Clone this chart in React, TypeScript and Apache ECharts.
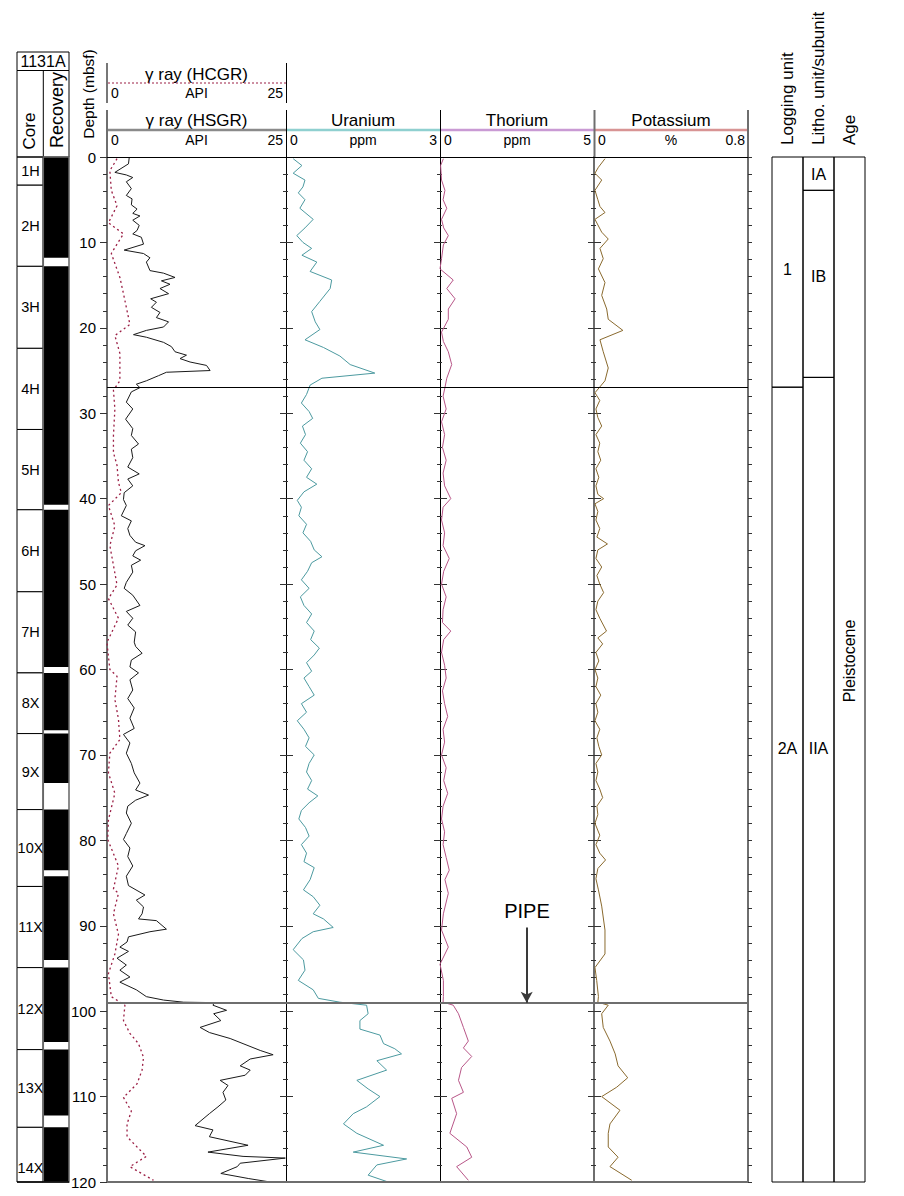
import React, { useEffect, useRef } from 'react';
import * as echarts from 'echarts';

// ---------------- DATA ----------------
// [depth (mbsf), value]
const hsgr: number[][] = [
  [0.1, 3.1], [0.8, 3.0], [1.8, 1.1], [2.1, 2.7], [2.4, 3.6], [2.9, 2.7], [3.7, 3.4], [4.5, 2.7], [4.9, 3.5], [5.6, 3.4],
  [6.1, 4.2], [6.6, 3.6], [6.9, 4.6], [7.4, 3.6], [8.0, 4.5], [8.6, 4.2], [9.0, 3.6], [9.4, 4.8], [10.2, 5.1], [10.9, 2.4],
  [11.3, 5.1], [11.8, 6.0], [12.3, 5.5], [13.3, 6.0], [13.6, 7.9], [14.1, 9.5], [14.5, 7.6], [14.9, 8.8], [15.4, 7.4], [16.0, 8.6],
  [16.6, 6.1], [17.0, 6.9], [17.6, 6.2], [18.2, 7.4], [18.8, 6.9], [19.3, 8.6], [19.9, 7.9], [20.3, 5.5], [20.8, 3.7], [21.1, 5.5],
  [21.7, 7.9], [22.2, 9.0], [22.8, 9.5], [23.2, 11.1], [23.6, 10.2], [24.0, 11.6], [24.4, 13.9], [25.0, 14.4], [25.2, 8.3], [25.6, 7.2],
  [26.2, 5.5], [26.6, 4.1], [27.0, 4.6], [27.5, 3.4], [28.7, 2.7], [29.5, 3.6], [30.7, 2.6], [31.8, 3.6], [32.6, 3.4], [33.6, 4.4],
  [34.2, 3.4], [35.2, 3.6], [36.3, 2.9], [37.1, 4.5], [37.7, 2.9], [38.5, 3.6], [39.3, 2.4], [40.1, 2.3], [40.8, 2.7], [42.0, 2.0],
  [42.6, 3.4], [43.5, 2.9], [44.3, 3.2], [45.1, 4.0], [45.5, 5.3], [46.1, 4.0], [46.7, 3.6], [47.2, 4.7], [47.8, 3.4], [48.6, 3.6],
  [49.8, 2.7], [50.5, 2.4], [51.3, 3.6], [52.5, 4.6], [53.2, 2.7], [54.0, 3.6], [54.8, 2.9], [55.6, 4.0], [56.8, 3.8], [57.3, 4.0],
  [58.1, 4.9], [58.9, 3.4], [59.7, 3.2], [60.4, 4.4], [61.2, 3.2], [62.4, 3.6], [63.4, 2.9], [64.5, 3.8], [65.7, 3.2], [66.9, 3.8],
  [67.6, 2.3], [68.6, 3.2], [69.8, 2.7], [71.0, 3.4], [72.1, 3.8], [73.3, 4.6], [74.1, 4.0], [74.7, 5.8], [75.3, 4.0], [76.0, 2.9],
  [76.8, 2.7], [78.0, 3.4], [79.2, 2.7], [79.9, 2.3], [80.9, 3.2], [81.9, 2.9], [83.0, 3.6], [84.2, 2.7], [85.3, 3.0], [86.4, 5.3],
  [87.0, 4.1], [87.8, 5.1], [88.6, 4.9], [89.2, 4.4], [89.4, 6.9], [90.4, 8.3], [90.7, 6.0], [91.3, 3.0], [91.9, 2.8], [92.5, 1.8],
  [93.0, 3.0], [93.8, 1.4], [94.6, 2.7], [95.2, 1.8], [96.0, 3.2], [96.6, 1.8], [97.5, 4.1], [98.3, 5.5], [98.7, 7.9], [98.95, 10.7],
  [99.0, 15.0], [99.3, 14.8], [99.9, 16.7], [100.3, 14.9], [101.1, 15.9], [101.9, 13.0], [102.5, 14.3], [103.2, 17.2], [103.8, 19.0], [104.6, 21.4],
  [105.1, 23.2], [105.6, 20.0], [106.4, 18.6], [106.9, 20.0], [107.5, 19.3], [108.1, 15.8], [108.7, 16.9], [109.5, 16.2], [110.4, 16.6], [111.2, 15.5],
  [112.0, 14.3], [113.4, 12.3], [113.9, 14.8], [114.7, 14.3], [115.7, 19.7], [116.5, 14.1], [117.0, 19.0], [117.2, 24.9], [117.8, 18.6], [118.2, 18.2],
  [119.0, 15.9], [119.6, 19.8], [120.0, 22.8],
];

const hcgr: number[][] = [
  [0.2, 1.4], [1.6, 0.4], [3.9, 0.6], [5.7, 1.4], [7.7, 0.2], [9.0, 2.3], [10.2, 1.4], [11.3, 0.6], [14.1, 1.8], [16.0, 2.3],
  [19.6, 3.2], [20.9, 1.1], [23.0, 1.8], [25.0, 1.8], [26.2, 1.8], [27.3, 0.9], [29.5, 1.1], [32.6, 0.9], [34.6, 0.9], [36.1, 1.4],
  [38.1, 1.6], [39.3, 2.0], [40.8, 0.2], [43.2, 1.1], [45.5, 0.4], [47.8, 0.9], [50.1, 1.4], [51.7, 0.2], [54.0, 1.6], [56.8, 0.0],
  [57.7, 0.1], [60.0, 0.4], [60.8, 1.4], [63.5, 1.1], [65.8, 1.6], [68.2, 1.8], [69.8, 0.4], [72.1, 0.2], [74.5, 1.1], [77.6, 0.2],
  [79.9, 0.1], [83.0, 1.6], [85.7, 0.9], [86.2, 1.6], [88.6, 0.9], [91.0, 1.6], [93.3, 1.1], [95.6, 0.2], [98.3, 0.6], [99.3, 2.5],
  [101.1, 2.3], [102.6, 3.2], [103.8, 4.4], [105.4, 5.1], [106.9, 4.9], [108.5, 4.2], [110.1, 2.3], [111.7, 3.4], [113.2, 2.8], [114.7, 2.8],
  [115.9, 4.2], [117.0, 5.5], [118.2, 3.2], [119.8, 6.5],
];

const uranium: number[][] = [
  [0.2, 0.14], [1.0, 0.31], [1.9, 0.14], [2.7, 0.37], [3.5, 0.33], [4.2, 0.24], [5.0, 0.37], [6.0, 0.27], [6.5, 0.37], [7.3, 0.53],
  [8.3, 0.37], [9.2, 0.21], [10.0, 0.33], [10.7, 0.50], [11.5, 0.31], [12.3, 0.60], [13.4, 0.47], [14.4, 0.89], [15.4, 0.86], [16.9, 0.66],
  [18.1, 0.50], [19.3, 0.57], [20.2, 0.66], [21.4, 0.37], [22.3, 0.73], [23.3, 1.05], [24.3, 1.25], [25.3, 1.73], [25.9, 0.70], [26.7, 0.47],
  [27.8, 0.40], [28.8, 0.30], [29.8, 0.45], [30.6, 0.52], [31.5, 0.32], [32.5, 0.38], [33.5, 0.28], [34.5, 0.42], [35.5, 0.35], [36.5, 0.50],
  [37.5, 0.40], [38.3, 0.60], [39.2, 0.35], [40.2, 0.22], [41.0, 0.30], [42.0, 0.25], [43.0, 0.40], [44.0, 0.33], [45.0, 0.48], [46.0, 0.55],
  [46.8, 0.70], [47.5, 0.50], [48.5, 0.42], [49.5, 0.30], [50.5, 0.45], [51.5, 0.28], [52.5, 0.35], [53.5, 0.50], [54.5, 0.40], [55.5, 0.55],
  [56.5, 0.48], [57.5, 0.65], [58.3, 0.55], [59.2, 0.40], [60.2, 0.50], [61.0, 0.35], [62.0, 0.45], [63.0, 0.55], [64.0, 0.30], [65.0, 0.40],
  [66.0, 0.22], [67.0, 0.35], [68.0, 0.45], [69.0, 0.38], [70.0, 0.55], [71.0, 0.45], [72.0, 0.40], [73.0, 0.50], [74.0, 0.42], [74.8, 0.62],
  [75.6, 0.45], [76.5, 0.30], [77.5, 0.25], [78.5, 0.38], [79.5, 0.45], [80.5, 0.30], [81.5, 0.40], [82.5, 0.35], [83.2, 0.55], [84.6, 0.47],
  [85.8, 0.34], [86.6, 0.53], [87.6, 0.66], [88.6, 0.53], [89.2, 0.73], [90.2, 0.92], [90.7, 0.53], [91.5, 0.31], [92.8, 0.14], [94.0, 0.34],
  [95.2, 0.37], [96.4, 0.24], [97.5, 0.53], [98.5, 0.63], [98.95, 1.05], [99.3, 1.57], [100.3, 1.60], [101.1, 1.44], [102.1, 1.44], [102.8, 1.83],
  [103.8, 1.90], [104.4, 2.12], [105.0, 2.25], [105.8, 1.77], [106.9, 1.96], [108.1, 1.38], [109.1, 1.60], [110.0, 1.83], [111.2, 1.57], [112.0, 1.31],
  [113.2, 1.12], [114.3, 1.38], [115.7, 1.90], [116.5, 1.31], [117.3, 2.35], [118.0, 1.77], [119.2, 1.60], [120.0, 1.99],
];

const thorium: number[][] = [
  [0.2, 0.11], [1.0, 0.02], [2.7, 0.05], [3.9, 0.16], [5.0, 0.10], [6.0, 0.22], [7.3, 0.05], [8.3, 0.12], [9.2, 0.27], [10.3, 0.11],
  [11.9, 0.05], [13.1, 0.0], [14.4, 0.43], [15.4, 0.22], [16.6, 0.49], [17.8, 0.27], [19.0, 0.27], [20.5, 0.05], [21.6, 0.11], [22.8, 0.27],
  [24.3, 0.38], [25.9, 0.22], [27.0, 0.16], [28.0, 0.10], [29.5, 0.20], [31.0, 0.05], [32.5, 0.15], [34.0, 0.08], [35.5, 0.20], [37.0, 0.10],
  [38.5, 0.15], [40.0, 0.35], [41.0, 0.10], [42.5, 0.05], [44.0, 0.15], [45.5, 0.10], [47.0, 0.30], [48.5, 0.12], [50.0, 0.05], [51.5, 0.20],
  [53.0, 0.10], [54.5, 0.08], [55.5, 0.35], [56.5, 0.12], [58.0, 0.05], [59.5, 0.15], [61.0, 0.20], [62.5, 0.08], [64.0, 0.15], [65.5, 0.25],
  [67.0, 0.10], [68.5, 0.15], [70.0, 0.05], [71.5, 0.20], [73.0, 0.12], [74.5, 0.25], [76.0, 0.10], [77.5, 0.05], [79.0, 0.15], [80.5, 0.10],
  [82.0, 0.20], [83.5, 0.30], [84.6, 0.16], [86.2, 0.27], [88.6, 0.11], [90.5, 0.05], [92.5, 0.27], [94.5, 0.0], [96.4, 0.11], [98.3, 0.11],
  [98.95, 0.10], [99.3, 0.43], [100.3, 0.60], [101.9, 0.76], [103.5, 0.92], [104.3, 0.76], [105.3, 1.03], [106.6, 0.70], [108.1, 0.60], [109.5, 0.76],
  [110.2, 0.38], [112.0, 0.54], [114.3, 0.32], [115.9, 0.87], [117.1, 1.03], [118.2, 0.54], [119.8, 0.92],
];

const potassium: number[][] = [
  [0.2, 0.057], [1.2, 0.023], [1.9, 0.005], [2.7, 0.04], [3.9, 0.005], [5.0, 0.02], [5.8, 0.031], [6.5, 0.057], [7.3, 0.005], [8.8, 0.04],
  [9.6, 0.074], [10.7, 0.031], [11.9, 0.048], [13.1, 0.023], [14.7, 0.057], [16.2, 0.04], [17.8, 0.066], [19.0, 0.074], [20.3, 0.15], [21.4, 0.031],
  [22.8, 0.048], [24.7, 0.074], [26.2, 0.057], [27.6, 0.005], [28.5, 0.03], [29.5, 0.01], [30.5, 0.02], [31.5, 0.04], [32.5, 0.01], [33.5, 0.03],
  [34.5, 0.02], [35.5, 0.035], [36.5, 0.01], [37.5, 0.025], [38.5, 0.01], [39.5, 0.02], [40.0, 0.05], [40.6, 0.005], [41.5, 0.02], [42.5, 0.01],
  [43.5, 0.03], [44.5, 0.015], [45.3, 0.07], [46.0, 0.02], [47.0, 0.01], [48.0, 0.04], [49.0, 0.015], [50.0, 0.03], [51.0, 0.05], [52.0, 0.02],
  [53.0, 0.01], [54.0, 0.03], [55.5, 0.065], [56.3, 0.02], [57.0, 0.045], [58.0, 0.01], [59.0, 0.025], [60.0, 0.005], [61.0, 0.02], [62.0, 0.01],
  [63.0, 0.035], [64.0, 0.01], [65.0, 0.02], [66.0, 0.005], [67.0, 0.03], [68.0, 0.015], [69.0, 0.025], [70.0, 0.04], [71.0, 0.01], [72.0, 0.02],
  [73.0, 0.01], [74.0, 0.03], [75.0, 0.045], [76.0, 0.015], [77.0, 0.02], [78.0, 0.005], [79.4, 0.03], [80.5, 0.01], [81.5, 0.03], [82.3, 0.06],
  [83.3, 0.02], [84.5, 0.01], [85.8, 0.023], [87.7, 0.04], [90.5, 0.057], [93.3, 0.057], [94.9, 0.005], [96.4, 0.014], [98.3, 0.023], [98.95, 0.02],
  [99.3, 0.074], [100.3, 0.04], [101.9, 0.048], [103.5, 0.083], [105.0, 0.11], [106.4, 0.125], [107.8, 0.175], [108.9, 0.118], [110.0, 0.04], [111.6, 0.135],
  [113.2, 0.083], [114.3, 0.074], [115.9, 0.074], [117.1, 0.125], [118.2, 0.083], [119.8, 0.196],
];

// Cores
const coreNames = ['1H', '2H', '3H', '4H', '5H', '6H', '7H', '8X', '9X', '10X', '11X', '12X', '13X', '14X'];
const coreTops = [0, 3.3, 12.8, 22.4, 31.9, 41.3, 50.9, 60.4, 67.5, 76.4, 85.4, 94.9, 104.5, 113.6];
const coreBottoms = [3.3, 12.8, 22.4, 31.9, 41.3, 50.9, 60.4, 67.5, 76.4, 85.4, 94.9, 104.5, 113.6, 123.1];
const recoveryTops = [0, 12.8, 41.3, 60.4, 67.5, 76.4, 84.2, 94.9, 104.5, 113.6];
const recoveryBottoms = [11.8, 40.7, 59.7, 67.1, 73.3, 83.5, 94.0, 103.6, 112.2, 120];

// Units
const logUnits = ['1', '2A'];
const logTops = [0, 26.95];
const logBottoms = [26.95, 120];
const logLabelDepths = [13.2, 69.2];
const lithoUnits = ['IA', 'IB', 'IIA'];
const lithoTops = [0, 3.9, 25.8];
const lithoBottoms = [3.9, 25.8, 120];
const lithoLabelDepths = [2.0, 14.0, 69.2];
const ages = ['Pleistocene'];
const ageTops = [0];
const ageBottoms = [120];
const ageLabelDepths = [59];

const depthTicks = [0, 120, 10];
const trackNames = ['γ ray (HSGR)', 'Uranium', 'Thorium', 'Potassium'];
const trackUnits = ['API', 'ppm', 'ppm', '%'];
const trackMin = [0, 0, 0, 0];
const trackMax = [25, 3, 5, 0.8];
const trackMaxLabels = ['25', '3', '5', '0.8'];
const hcgrName = 'γ ray (HCGR)';
const unitBoundaryDepth = 26.95;
const pipeDepth = 99.0;
const pipeArrowTh = 2.815;
const pipeArrowTop = 90.2;

// ---------------- LAYOUT ----------------
const FONT = '"Liberation Sans", Arial, Helvetica, sans-serif';
const TOP = 157;
const H = 1025;
const trackLeft = [107, 286, 440, 594];
const trackWidth = [179, 154, 154, 154];
const trackHeaderColor = ['#8a8a8a', '#8fd0d0', '#c99ad4', '#d89494'];
const axisColor = ['#6e6e6e', '#000', '#000', '#6e6e6e'];
const axisWidth = [2, 1, 1, 2];

const toXY = (arr: number[][]) => arr.map(([d, v]) => [v, d]);

function txt(x: number, y: number, text: string, size: number, align = 'center', rotation = 0, extra: any = {}) {
  return {
    type: 'text', x, y, rotation, z: 20,
    style: {
      text, fill: '#000', fontSize: size, fontFamily: FONT,
      textAlign: align, align, textVerticalAlign: 'middle', verticalAlign: 'middle', ...extra,
    },
  };
}
function ln(x1: number, y1: number, x2: number, y2: number, color: string, width: number, dash?: number[]) {
  return {
    type: 'line', z: 20,
    shape: { x1, y1, x2, y2 },
    style: { stroke: color, lineWidth: width, lineDash: dash || null },
  };
}

export default function App() {
  const ref = useRef<HTMLDivElement>(null);
  useEffect(() => {
    document.body.style.margin = '0';
    const chart = echarts.init(ref.current!, null, { renderer: 'svg' });

    const grids: any[] = trackLeft.map((l, i) => ({ left: l, top: TOP, width: trackWidth[i], height: H, outerBoundsMode: 'none' }));
    grids.push({ left: 17, top: TOP, width: 52, height: H, outerBoundsMode: 'none' });
    grids.push({ left: 772, top: TOP, width: 93, height: H, outerBoundsMode: 'none' });

    const xAxes: any[] = trackLeft.map((_, i) => ({ type: 'value', gridIndex: i, min: trackMin[i], max: trackMax[i], show: false }));
    xAxes.push({ type: 'value', gridIndex: 4, min: 0, max: 2, show: false });
    xAxes.push({ type: 'value', gridIndex: 5, min: 0, max: 3, show: false });

    const yBase = { type: 'value', min: depthTicks[0], max: depthTicks[1], interval: depthTicks[2], inverse: true, splitLine: { show: false } };
    const tickStyle = { color: '#333', width: 1 };
    const yAxes: any[] = [];
    const mainY: number[] = [];
    mainY.push(yAxes.length);
    yAxes.push({
      ...yBase, gridIndex: 0, position: 'left',
      axisLine: { show: true, lineStyle: { color: axisColor[0], width: axisWidth[0] } },
      axisTick: { show: true, length: 7, lineStyle: tickStyle },
      minorTick: { show: true, splitNumber: 5, length: 4, lineStyle: tickStyle },
      axisLabel: { show: true, margin: 11, fontSize: 15, color: '#000', fontFamily: FONT },
    });
    for (let i = 1; i < 4; i++) {
      mainY.push(yAxes.length);
      yAxes.push({
        ...yBase, gridIndex: i, position: 'left',
        axisLine: { show: true, lineStyle: { color: axisColor[i], width: axisWidth[i] } },
        axisTick: { show: true, length: 6, lineStyle: tickStyle },
        minorTick: { show: true, splitNumber: 5, length: 3, lineStyle: tickStyle },
        axisLabel: { show: false },
      });
      yAxes.push({
        ...yBase, gridIndex: i, position: 'left',
        axisLine: { show: false },
        axisTick: { show: true, inside: true, length: 7, lineStyle: tickStyle },
        minorTick: { show: true, splitNumber: 5, length: 2, lineStyle: tickStyle },
        axisLabel: { show: false },
      });
    }
    yAxes.push({
      ...yBase, gridIndex: 3, position: 'right',
      axisLine: { show: true, lineStyle: { color: axisColor[3], width: 2 } },
      axisTick: { show: true, length: 4, lineStyle: tickStyle },
      minorTick: { show: true, splitNumber: 5, length: 4, lineStyle: tickStyle },
      axisLabel: { show: false },
    });
    const coreY = yAxes.length;
    yAxes.push({ ...yBase, gridIndex: 4, show: false });
    const unitY = yAxes.length;
    yAxes.push({ ...yBase, gridIndex: 5, show: false });

    const boundaryMarks = (extra: any[] = []) => ({
      silent: true, symbol: 'none', animation: false, label: { show: false },
      data: [
        { yAxis: 0, lineStyle: { color: '#000', width: 1, type: 'solid' } },
        { yAxis: unitBoundaryDepth, lineStyle: { color: '#000', width: 1, type: 'solid' } },
        { yAxis: pipeDepth, lineStyle: { color: '#6e6e6e', width: 2, type: 'solid' } },
        { yAxis: 120, lineStyle: { color: '#6e6e6e', width: 2, type: 'solid' } },
        ...extra,
      ],
    });

    const lineSeries = (name: string, data: number[][], i: number, color: string, width: number, dash: any, marks: boolean, extra: any[] = []) => ({
      name, type: 'line', xAxisIndex: i, yAxisIndex: mainY[i], data: toXY(data),
      symbol: 'none', showSymbol: false, clip: true, z: 3,
      lineStyle: { color, width, type: dash },
      markLine: marks ? boundaryMarks(extra) : undefined,
    });

    const unitRows: any[] = [];
    const unitLabels: string[] = [];
    logUnits.forEach((u, i) => { unitRows.push([0, logTops[i], logBottoms[i], logLabelDepths[i], unitLabels.length]); unitLabels.push(u); });
    lithoUnits.forEach((u, i) => { unitRows.push([1, lithoTops[i], lithoBottoms[i], lithoLabelDepths[i], unitLabels.length]); unitLabels.push(u); });
    ages.forEach((u, i) => { unitRows.push([2, ageTops[i], ageBottoms[i], ageLabelDepths[i], unitLabels.length]); unitLabels.push(u); });

    const series: any[] = [
      lineSeries('HCGR', hcgr, 0, '#9b1f45', 1.3, [2, 3], false),
      lineSeries('HSGR', hsgr, 0, '#1a1a1a', 1, 'solid', true),
      lineSeries('Uranium', uranium, 1, '#4c9aa0', 1, 'solid', true),
      lineSeries('Thorium', thorium, 2, '#b85688', 1, 'solid', true, [
        [
          { coord: [pipeArrowTh, pipeArrowTop], symbol: 'none', lineStyle: { color: '#3a3a3a', width: 2, type: 'solid' } },
          { coord: [pipeArrowTh, pipeDepth], symbol: 'arrow', symbolSize: [9, 11] },
        ],
      ]),
      lineSeries('Potassium', potassium, 3, '#8a6a2e', 1, 'solid', true),
      {
        type: 'custom', name: 'cores', xAxisIndex: 4, yAxisIndex: coreY, z: 3,
        data: coreTops.map((t, i) => [i, t, coreBottoms[i]]),
        encode: { y: [1, 2] },
        renderItem: (params: any, api: any) => {
          const i = api.value(0);
          const a = api.coord([0, api.value(1)]);
          const b = api.coord([1, api.value(2)]);
          const cs = params.coordSys;
          const y1 = Math.max(a[1], cs.y);
          const y2 = Math.min(b[1], cs.y + cs.height);
          return {
            type: 'group',
            children: [
              { type: 'rect', shape: { x: a[0], y: y1, width: b[0] - a[0], height: y2 - y1 }, style: { fill: '#fff', stroke: '#000', lineWidth: 1 } },
              {
                type: 'text', x: (a[0] + b[0]) / 2 + 0.5, y: (a[1] + b[1]) / 2,
                style: { text: coreNames[i], fill: '#000', fontSize: 14.5, fontFamily: FONT, textAlign: 'center', align: 'center', textVerticalAlign: 'middle', verticalAlign: 'middle' },
              },
            ],
          };
        },
      },
      {
        type: 'custom', name: 'recovery', xAxisIndex: 4, yAxisIndex: coreY, z: 3,
        data: recoveryTops.map((t, i) => [t, recoveryBottoms[i]]),
        encode: { y: [0, 1] },
        renderItem: (params: any, api: any) => {
          const a = api.coord([1, api.value(0)]);
          const b = api.coord([2, api.value(1)]);
          const cs = params.coordSys;
          const y1 = Math.max(a[1], cs.y);
          const y2 = Math.min(b[1], cs.y + cs.height);
          return { type: 'rect', shape: { x: a[0], y: y1, width: b[0] - a[0], height: y2 - y1 }, style: { fill: '#000' } };
        },
      },
      {
        type: 'custom', name: 'units', xAxisIndex: 5, yAxisIndex: unitY, z: 3,
        data: unitRows,
        encode: { y: [1, 2] },
        renderItem: (params: any, api: any) => {
          const col = api.value(0);
          const a = api.coord([col, api.value(1)]);
          const b = api.coord([col + 1, api.value(2)]);
          const lab = api.coord([col + 0.5, api.value(3)]);
          const label = unitLabels[api.value(4)];
          return {
            type: 'group',
            children: [
              { type: 'rect', shape: { x: a[0], y: a[1], width: b[0] - a[0], height: b[1] - a[1] }, style: { fill: 'none', stroke: '#000', lineWidth: 1 } },
              {
                type: 'text', x: lab[0], y: lab[1], rotation: col === 2 ? Math.PI / 2 : 0,
                style: { text: label, fill: '#000', fontSize: 16, fontFamily: FONT, textAlign: 'center', align: 'center', textVerticalAlign: 'middle', verticalAlign: 'middle' },
              },
            ],
          };
        },
      },
    ];

    const graphics: any[] = [];
    graphics.push({ type: 'rect', z: 20, shape: { x: 17, y: 52, width: 52, height: 18.5 }, style: { fill: 'none', stroke: '#000', lineWidth: 1 } });
    graphics.push(txt(43, 61.5, '1131A', 16));
    graphics.push({ type: 'rect', z: 20, shape: { x: 17, y: 70.5, width: 52, height: 86.5 }, style: { fill: 'none', stroke: '#000', lineWidth: 1 } });
    graphics.push(ln(43.3, 70.5, 43.3, 157, '#000', 1));
    graphics.push(txt(29.5, 131, 'Core', 17, 'center', Math.PI / 2));
    graphics.push(txt(56.5, 110, 'Recovery', 18, 'center', Math.PI / 2));
    graphics.push({ type: 'rect', z: 20, shape: { x: 43.3, y: TOP, width: 25.7, height: H }, style: { fill: 'none', stroke: '#666', lineWidth: 1.5 } });
    graphics.push(ln(17, TOP + H, 69, TOP + H, '#000', 1.5));
    graphics.push(txt(88, 94, 'Depth (mbsf)', 15.5, 'center', Math.PI / 2));
    graphics.push(ln(107, 63, 107, 103, '#777', 2));
    graphics.push(ln(286.5, 63, 286.5, 103, '#000', 1));
    graphics.push(txt(196.5, 74, hcgrName, 17));
    graphics.push(ln(108, 83, 286, 83, '#9b1f45', 1, [2, 2]));
    graphics.push(txt(111, 93, '0', 14, 'left'));
    graphics.push(txt(196.5, 93, trackUnits[0], 14));
    graphics.push(txt(283, 93, '25', 14, 'right'));
    trackLeft.forEach((l, i) => {
      const w = trackWidth[i];
      graphics.push(txt(l + w / 2, 120.5, trackNames[i], 17));
      graphics.push(ln(l, 130, l + w, 130, trackHeaderColor[i], 2.5));
      graphics.push(txt(l + 4, 140, '0', 14, 'left'));
      graphics.push(txt(l + w / 2, 140, trackUnits[i], 14));
      graphics.push(txt(l + w - 3, 140, trackMaxLabels[i], 14, 'right'));
      graphics.push(ln(l + (i === 0 ? 0 : 0.5), 110, l + (i === 0 ? 0 : 0.5), TOP, axisColor[i], axisWidth[i]));
    });
    graphics.push(ln(748, 110, 748, TOP, '#6e6e6e', 2));
    graphics.push(txt(527, 911, 'PIPE', 20));
    graphics.push(txt(787, 145, 'Logging unit', 17, 'left', Math.PI / 2));
    graphics.push(txt(818.5, 145, 'Litho. unit/subunit', 17, 'left', Math.PI / 2));
    graphics.push(txt(849.5, 145, 'Age', 17, 'left', Math.PI / 2));

    chart.setOption({
      animation: false,
      textStyle: { fontFamily: FONT },
      grid: grids,
      xAxis: xAxes,
      yAxis: yAxes,
      series,
      graphic: { elements: graphics },
    });
    return () => chart.dispose();
  }, []);
  return <div ref={ref} style={{ width: 904, height: 1196 }} />;
}
